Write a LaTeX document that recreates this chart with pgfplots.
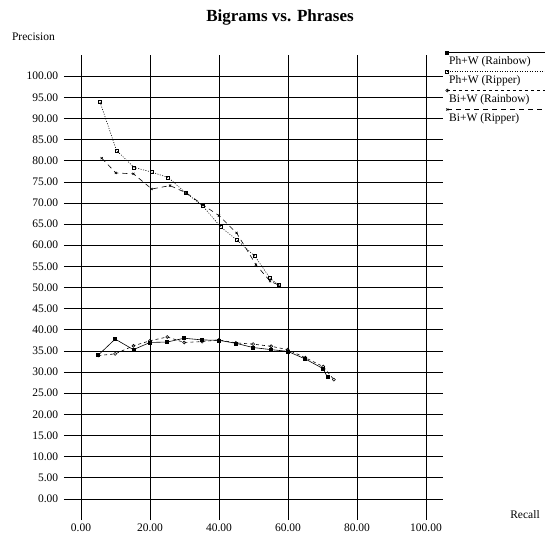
\documentclass[border=0pt]{standalone}
\usepackage{fontspec}
\setmainfont{Liberation Serif}
\usepackage{pgfplots}
\pgfplotsset{compat=1.18}

\begin{document}
\begin{tikzpicture}[font=\fontsize{11.5}{13.8}\selectfont]
\path[use as bounding box] (0,0) rectangle (545pt,538pt);
\begin{axis}[
    at={(63.75pt,18pt)}, anchor=south west,
    width=379.5pt, height=465pt, scale only axis,
    xmin=-5, xmax=105, ymin=-5, ymax=105,
    xtick={0,20,...,100}, ytick={0,5,...,100},
    grid=major,
    major grid style={black, line width=0.6pt},
    axis line style={draw=none},
    major tick length=0pt,
    /pgf/number format/assume math mode=true,
    /pgf/number format/fixed,
    /pgf/number format/fixed zerofill,
    /pgf/number format/precision=2,
    /pgf/number format/1000 sep={},
    yticklabel style={xshift=-2pt},
    legend style={draw=none, fill=none, inner sep=0pt,
        at={(1.0099,1.0004)}, anchor=north west,
        row sep=7pt, column sep=2pt,
        nodes={inner sep=0pt, text height=9pt, text depth=3pt}},
    legend cell align=left,
    legend image code/.code={%
        \draw[#1, overlay, mark indices={1}] plot coordinates {(0pt,8.5pt) (100pt,8.5pt)};
    },
    every axis plot/.append style={black, line width=0.6pt, mark size=1.5pt, mark options={solid}},
]
% Ph+W (Rainbow)
\addplot[solid, mark=square*] coordinates {
    (5.0,34.0) (9.9,37.8) (15.2,35.3) (20.0,37.0) (25.0,37.1) (29.9,38.0)
    (35.1,37.6) (40.0,37.5) (44.9,36.8) (49.9,35.8) (55.1,35.3) (59.9,34.9)
    (65.0,33.1) (70.2,30.8) (71.4,28.8)};
% Ph+W (Ripper)
\addplot[dash pattern=on 1pt off 1.5pt, mark=square] coordinates {
    (5.5,93.9) (10.3,82.4) (15.4,78.4) (20.5,77.3) (25.3,76.0) (30.5,72.3)
    (35.3,69.3) (40.5,64.3) (45.1,61.3) (50.4,57.4) (54.8,52.2) (57.2,50.6)};
% Bi+W (Rainbow)
\addplot[dash pattern=on 3pt off 3pt, mark=o] coordinates {
    (5.0,33.9) (9.9,34.3) (15.2,36.2) (20.0,37.4) (25.0,38.3) (29.9,37.0)
    (35.1,37.2) (40.0,37.6) (44.9,36.9) (49.9,36.6) (55.1,36.1) (59.9,35.3)
    (65.0,33.4) (70.2,31.3) (73.3,28.2)};
% Bi+W (Ripper)
\addplot[dash pattern=on 5pt off 4pt, mark=x] coordinates {
    (6.0,80.6) (10.1,77.1) (15.2,76.9) (20.5,73.3) (25.8,74.1) (30.5,72.4)
    (35.4,69.5) (40.0,67.0) (45.1,62.9) (50.7,55.4) (54.8,51.5) (57.2,50.6)};
\legend{Ph+W (Rainbow), Ph+W (Ripper), Bi+W (Rainbow), Bi+W (Ripper)}
\end{axis}
\node[font=\bfseries\fontsize{17}{20}\selectfont] at (280pt,521pt) {Bigrams vs. Phrases};
\node at (33.5pt,501pt) {Precision};
\node at (525pt,23pt) {Recall};
\end{tikzpicture}
\end{document}
